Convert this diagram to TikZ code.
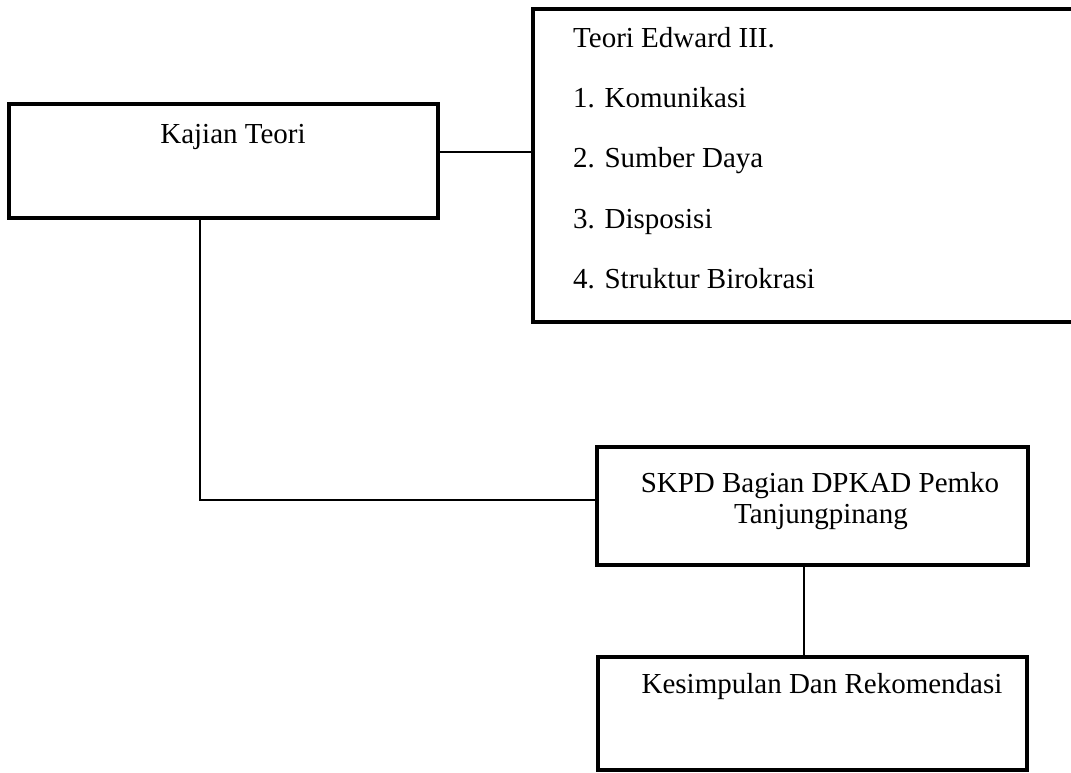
\documentclass[tikz,border=0pt]{standalone}
\usepackage{fontspec}
\setmainfont{Liberation Serif}
\begin{document}
\begin{tikzpicture}[x=1pt,y=-1pt,
  box/.style={draw, line width=3.5pt, rectangle, inner sep=0pt, outer sep=0pt},
  conn/.style={draw, line width=1.5pt},
  txt/.style={anchor=base, inner sep=0pt, font=\fontsize{29}{31}\selectfont},
  ltxt/.style={txt, anchor=base west}]
\useasboundingbox (0,0) rectangle (1071,772);
\clip (0,0) rectangle (1071,772);

% boxes
\node[box, minimum width=429, minimum height=114] (kajian) at (223.5,161) {};
\node[box, minimum width=567, minimum height=313] (edward) at (816.5,165.5) {};
\node[box, minimum width=431, minimum height=118] (skpd) at (812.5,506) {};
\node[box, minimum width=429, minimum height=113] (kesim) at (812.5,713.5) {};

% box texts
\node[txt] (tkajian) at (233,143) {Kajian Teori};
\node[ltxt] (e0) at (573,47) {Teori Edward III.};
\node[ltxt] (e1) at (573,107) {1. Komunikasi};
\node[ltxt] (e2) at (573,167) {2. Sumber Daya};
\node[ltxt] (e3) at (573,228) {3. Disposisi};
\node[ltxt] (e4) at (573,288) {4. Struktur Birokrasi};
\node[txt] (s1) at (820,492) {SKPD Bagian DPKAD Pemko};
\node[txt] (s2) at (821,523) {Tanjungpinang};
\node[txt] (k1) at (822,693) {Kesimpulan Dan Rekomendasi};

% connectors
\draw[conn] (kajian.east |- 0,152) -- (edward.west |- 0,152);
\draw[conn] (kajian.south -| 200,0) |- (skpd.west |- 0,500);
\draw[conn] (skpd.south -| 804,0) -- (kesim.north -| 804,0);
\end{tikzpicture}
\end{document}
